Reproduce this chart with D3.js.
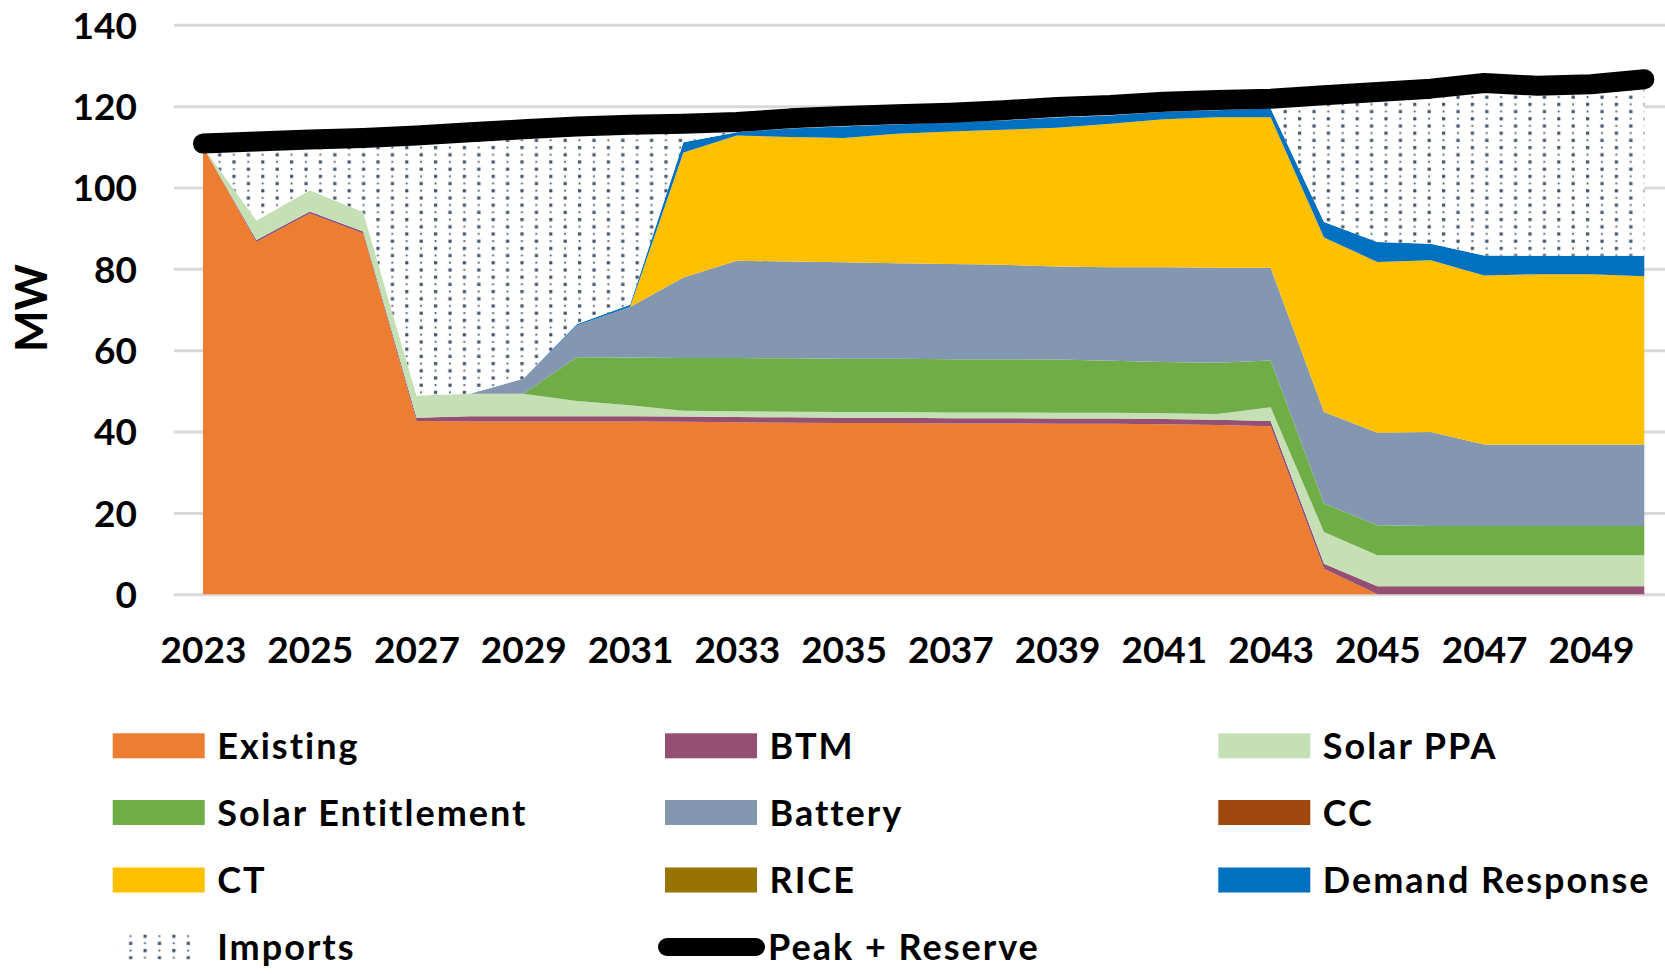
<!DOCTYPE html>
<html>
<head>
<meta charset="utf-8">
<script src="https://cdn.jsdelivr.net/npm/d3@7"></script>
<style>
    html, body { margin: 0; padding: 0; background: #fff; }
    svg { display: block; }
    text { font-family: Lato, "Open Sans", sans-serif; font-weight: 700; fill: #000; }
</style>
</head>
<body>
<div id="chart"></div>
<script>
// 年（カテゴリ）
const years = [2023, 2024, 2025, 2026, 2027, 2028, 2029, 2030, 2031, 2032, 2033, 2034, 2035, 2036,
    2037, 2038, 2039, 2040, 2041, 2042, 2043, 2044, 2045, 2046, 2047, 2048, 2049, 2050];

// 系列（MW）
const existing = [110, 86.6, 93.6, 88.7, 42.6, 42.5, 42.5, 42.5, 42.5, 42.4, 42.3, 42.2, 42.1, 42.1,
    42.0, 42.0, 41.9, 41.9, 41.8, 41.6, 41.3, 6.3, 0, 0, 0, 0, 0, 0];
const btm = [0, 0.5, 0.5, 0.5, 0.8, 1.3, 1.3, 1.3, 1.3, 1.3, 1.3, 1.3, 1.3, 1.3,
    1.3, 1.3, 1.3, 1.3, 1.3, 1.3, 1.3, 1.2, 2.0, 2.0, 2.0, 2.0, 2.0, 2.0];
const solarPPA = [0, 4.8, 5.2, 4.8, 5.5, 5.5, 5.5, 3.7, 2.7, 1.4, 1.4, 1.4, 1.4, 1.4,
    1.4, 1.4, 1.4, 1.4, 1.4, 1.4, 3.4, 7.8, 7.6, 7.6, 7.6, 7.6, 7.6, 7.6];
const solarEntitlement = [0, 0, 0, 0, 0, 0, 0, 10.8, 11.7, 13.0, 13.1, 13.1, 13.1, 13.1,
    13.1, 13.1, 13.1, 12.8, 12.6, 12.6, 11.5, 7.0, 7.4, 7.2, 7.2, 7.2, 7.2, 7.2];
const battery = [0, 0, 0, 0, 0, 0, 3.7, 7.8, 12.4, 19.8, 23.9, 23.8, 23.7, 23.5,
    23.4, 23.2, 22.9, 23.0, 23.3, 23.4, 22.8, 22.5, 22.7, 23.1, 20.0, 20.0, 20.0, 20.0];
const cc = [0, 0, 0, 0, 0, 0, 0, 0, 0, 0, 0, 0, 0, 0,
    0, 0, 0, 0, 0, 0, 0, 0, 0, 0, 0, 0, 0, 0];
const ct = [0, 0, 0, 0, 0, 0, 0, 0, 0, 30.7, 30.8, 30.6, 30.6, 31.8,
    32.6, 33.2, 34.1, 35.3, 36.4, 37.0, 37.0, 42.9, 42.0, 42.2, 41.6, 41.9, 41.9, 41.4];
const rice = [0, 0, 0, 0, 0, 0, 0, 0, 0, 0, 0, 0, 0, 0,
    0, 0, 0, 0, 0, 0, 0, 0, 0, 0, 0, 0, 0, 0];
const demandResponse = [0, 0, 0, 0, 0, 0, 0, 0.3, 0.6, 2.5, 0.8, 2.1, 2.8, 2.3,
    2.3, 2.3, 2.5, 2.0, 1.8, 1.7, 2.1, 3.8, 4.9, 4.1, 4.9, 4.5, 4.5, 5.0];
const imports = [0.8, 19.4, 12.5, 18.2, 63.9, 64.3, 61.3, 48.6, 44.2, 1.5, 0, 0, 0, 0,
    0, 0, 0, 0, 0, 0, 0, 31.2, 36.9, 38.1, 42.4, 41.8, 42.2, 43.4];
const peakReserve = [110.8, 111.3, 111.8, 112.2, 112.8, 113.6, 114.3, 115.0, 115.4, 115.7, 116.1, 117.0, 117.6, 118.0,
    118.4, 119.0, 119.8, 120.3, 121.1, 121.5, 121.8, 122.7, 123.5, 124.3, 125.7, 125.0, 125.4, 126.6];

// 軸の目盛り
const yTicks = [0, 20, 40, 60, 80, 100, 120, 140];
const xTickYears = [2023, 2025, 2027, 2029, 2031, 2033, 2035, 2037, 2039, 2041, 2043, 2045, 2047, 2049];

// 積み上げ順（凡例順）
const seriesNames = ['Existing', 'BTM', 'Solar PPA', 'Solar Entitlement', 'Battery', 'CC', 'CT', 'RICE', 'Demand Response', 'Imports'];
const seriesValues = [existing, btm, solarPPA, solarEntitlement, battery, cc, ct, rice, demandResponse, imports];
const seriesColors = ['#ED7D31', '#954F72', '#C5E0B4', '#70AD47', '#8497B0', '#9E480E', '#FFC000', '#997300', '#0070C0', 'url(#dots)'];
const peakName = 'Peak + Reserve';

const width = 1665;
const height = 974;

const svg = d3.select('#chart')
    .append('svg')
    .attr('width', width)
    .attr('height', height);

// インポート用のドットパターン（大小のドットを互い違いに）
const defs = svg.append('defs');
const pattern = defs.append('pattern')
    .attr('id', 'dots')
    .attr('patternUnits', 'userSpaceOnUse')
    .attr('width', 28.8)
    .attr('height', 14.4);
pattern.append('rect')
    .attr('width', 28.8)
    .attr('height', 14.4)
    .attr('fill', '#fff');
[[2, 2, 3.2], [16.4, 9.2, 3.2], [17, 2.6, 1.8], [2.6, 9.8, 1.8]].forEach(([px, py, s]) => {
    pattern.append('rect')
        .attr('x', px)
        .attr('y', py)
        .attr('width', s)
        .attr('height', s)
        .attr('fill', '#44546A');
});

const x = d3.scaleLinear()
    .domain([2023, 2050])
    .range([203, 1644.3]);

const y = d3.scaleLinear()
    .domain([0, 140])
    .range([594.3, 24.8]);

// グリッド線とY軸ラベル
const gridLeft = 174;
const yAxis = svg.append('g')
    .attr('transform', `translate(${gridLeft},0)`)
    .call(d3.axisLeft(y)
        .tickValues(yTicks)
        .tickSize(-(width - gridLeft))
        .tickPadding(37));
yAxis.select('.domain').remove();
yAxis.selectAll('line')
    .attr('stroke', '#D9D9D9')
    .attr('stroke-width', 3);
yAxis.selectAll('text')
    .attr('font-size', 37)
    .attr('dy', '0.36em');

// 積み上げエリア
const table = years.map((yr, i) => {
    const row = { year: yr };
    seriesNames.forEach((name, k) => { row[name] = seriesValues[k][i]; });
    return row;
});

const stacked = d3.stack()
    .keys(seriesNames)
    .order(d3.stackOrderNone)
    .offset(d3.stackOffsetNone)(table);

const area = d3.area()
    .x(d => x(d.data.year))
    .y0(d => y(d[0]))
    .y1(d => y(d[1]));

svg.append('g')
    .selectAll('path')
    .data(stacked)
    .enter().append('path')
    .attr('d', area)
    .attr('fill', (d, i) => seriesColors[i]);

// Peak + Reserve の線
const line = d3.line()
    .x((d, i) => x(years[i]))
    .y(d => y(d));

svg.append('path')
    .datum(peakReserve)
    .attr('d', line)
    .attr('fill', 'none')
    .attr('stroke', '#000')
    .attr('stroke-width', 20)
    .attr('stroke-linecap', 'round')
    .attr('stroke-linejoin', 'round');

// X軸ラベル
const xAxis = svg.append('g')
    .attr('transform', `translate(0,${y(0)})`)
    .call(d3.axisBottom(x)
        .tickValues(xTickYears)
        .tickFormat(d3.format('d'))
        .tickSize(0));
xAxis.select('.domain').remove();
xAxis.selectAll('text')
    .attr('font-size', 37)
    .attr('y', 69)
    .attr('dy', 0);

// Y軸タイトル
svg.append('text')
    .attr('transform', 'translate(47,308) rotate(-90)')
    .attr('text-anchor', 'middle')
    .attr('font-size', 44)
    .text('MW');

// 凡例
const legendCols = [112.7, 665, 1218.3];
const legendRows = [745.8, 812.5, 880, 947];
const legendItems = seriesNames.map((name, i) => ({ name, color: seriesColors[i], type: 'area' }))
    .concat([{ name: peakName, color: '#000', type: 'line' }]);

const legend = svg.append('g')
    .selectAll('g')
    .data(legendItems)
    .enter().append('g')
    .attr('transform', (d, i) => `translate(${legendCols[i % 3]},${legendRows[Math.floor(i / 3)]})`);

legend.filter(d => d.type === 'area')
    .append('rect')
    .attr('x', d => d.name === 'Imports' ? 6 : 0)
    .attr('y', -12.5)
    .attr('width', d => d.name === 'Imports' ? 82 : 92)
    .attr('height', 25)
    .attr('fill', d => d.color);

legend.filter(d => d.type === 'line')
    .append('line')
    .attr('x1', 2)
    .attr('x2', 91)
    .attr('stroke', '#000')
    .attr('stroke-width', 18)
    .attr('stroke-linecap', 'round');

legend.append('text')
    .attr('x', d => d.type === 'line' ? 103 : 104.5)
    .attr('y', 13)
    .attr('font-size', 36)
    .attr('letter-spacing', 2)
    .text(d => d.name);
</script>
</body>
</html>
